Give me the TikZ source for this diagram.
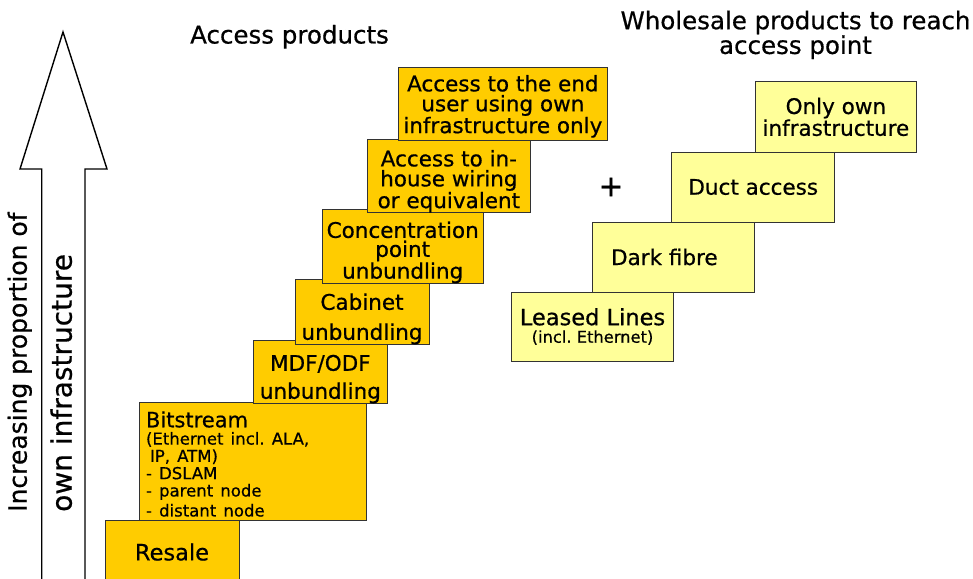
\documentclass[tikz,border=0pt]{standalone}
\usepackage{fontspec}
\setmainfont{DejaVu Sans}[RawFeature={embolden=0.6}]
\frenchspacing
\definecolor{gold}{HTML}{FFCC00}
\definecolor{lyellow}{HTML}{FFFF99}
\definecolor{edgegray}{HTML}{333333}
\newcommand{\tstrut}[1]{\rule{0pt}{#1}}
\begin{document}
\begin{tikzpicture}[x=1pt,y=-1pt,
  obox/.style={draw=edgegray, line width=1pt, fill=gold, inner sep=0pt, align=center,
    font=\fontsize{21.5}{20}\selectfont},
  ybox/.style={draw=edgegray, line width=1pt, fill=lyellow, inner sep=0pt, align=center,
    font=\fontsize{21.5}{20}\selectfont},
  title/.style={align=center, inner sep=0pt, font=\fontsize{24.5}{21}\selectfont},
  sidetext/.style={rotate=90, anchor=base west, inner sep=0pt}]
\useasboundingbox (0,0) rectangle (973,578);
% big arrow
\draw[line width=1.4pt, fill=white] (63,32) -- (107,169) -- (85,169) -- (85,600)
  -- (41.7,600) -- (41.7,169) -- (20,169) -- cycle;
\node[sidetext, font=\fontsize{25}{25}\selectfont] (inc) at (26.7,512) {Increasing proportion of};
\node[sidetext, font=\fontsize{28}{25}\selectfont] (own) at (71.7,512) {own infrastructure};
% titles
\node[title, anchor=base] (tacc) at (289.5,43.5) {Access products};
\node[title] (twh) at (795.5,34.8) {Wholesale products to reach\\access point};
% access product staircase
\node[obox, minimum width=134pt, minimum height=64pt, font=\fontsize{22.5}{20}\selectfont] (resale) at (172,552) {Resale};
\node[obox, minimum width=227.7pt, minimum height=118pt, text width=213.7pt, align=left] (bit) at (252.85,461)
  {{\fontsize{21}{21}\selectfont \tstrut{22pt}Bitstream\par}
   \fontsize{16.5}{17.3}\selectfont (Ethernet incl. ALA,\\\hspace*{4pt}IP, ATM)\\- DSLAM\\- parent node\\- distant node};
\node[obox, minimum width=133.3pt, minimum height=60pt, font=\fontsize{21.5}{28}\selectfont] (mdf) at (320.35,372) {\tstrut{30pt}MDF/ODF\\unbundling};
\node[obox, minimum width=134pt, minimum height=60pt, font=\fontsize{21.5}{30}\selectfont] (cab) at (362,312) {\tstrut{30pt}Cabinet\\unbundling};
\node[obox, minimum width=161.3pt, minimum height=71pt, font=\fontsize{21.5}{19}\selectfont] (conc) at (402.7,246.5) {\tstrut{28pt}Concentration\\point\\unbundling};
\node[obox, minimum width=162.3pt, minimum height=70pt] (inh) at (448.85,176) {\tstrut{27pt}Access to in-\\house wiring\\or equivalent};
\node[obox, minimum width=209.7pt, minimum height=73pt] (endu) at (502.85,103.5) {\tstrut{22pt}Access to the end\\user using own\\infrastructure only};
% plus
\node[inner sep=0pt, font=\fontsize{30}{30}\selectfont] (plus) at (611,187) {+};
% wholesale staircase
\node[ybox, minimum width=161.6pt, minimum height=69pt, font=\fontsize{22.5}{17.5}\selectfont] (ll) at (592.5,326.5)
  {Leased Lines\\{\fontsize{16.3}{17}\selectfont (incl. Ethernet)}};
\node[ybox, minimum width=161.3pt, minimum height=70pt] (dark) at (673.35,257) {Dark fibre\hspace*{18pt}};
\node[ybox, minimum width=163pt, minimum height=70pt] (duct) at (753.2,187) {Duct access};
\node[ybox, minimum width=161.7pt, minimum height=70.3pt] (only) at (835.85,116.85) {Only own\\infrastructure};
\end{tikzpicture}
\end{document}
